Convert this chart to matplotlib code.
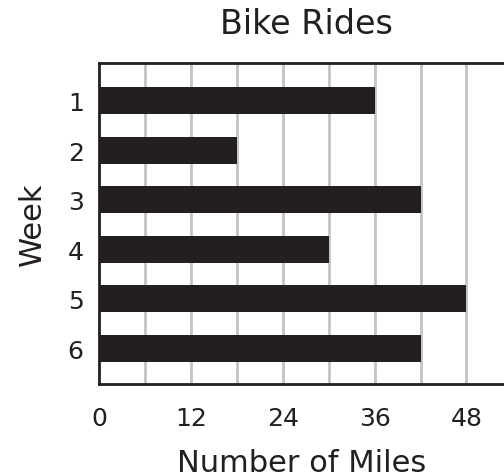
import matplotlib.pyplot as plt

WEEKS = [1, 2, 3, 4, 5, 6]
MILES = [36, 18, 42, 30, 48, 42]
GRID_STEPS = [6, 12, 18, 24, 30, 36, 42, 48]
TICKS = [0, 12, 24, 36, 48]

BAR_COLOR = "#231f20"
GRID_COLOR = "#c4c4c6"


def main():
    fig = plt.figure(figsize=(5.04, 4.77), dpi=100)
    ax = fig.add_axes([99 / 504, 92 / 477, 1 - 99 / 504, 321 / 477])

    for g in GRID_STEPS:
        ax.axvline(g, color=GRID_COLOR, linewidth=2, zorder=1)

    ax.barh(WEEKS, MILES, height=0.545, color=BAR_COLOR, zorder=2)

    ax.set_xlim(0, 52.9)
    ax.set_ylim(6.727, 0.242)

    ax.set_xticks(TICKS)
    ax.set_yticks(WEEKS)
    ax.tick_params(axis="both", length=0, labelsize=18, colors="#231f20")
    ax.tick_params(axis="x", pad=16)
    ax.tick_params(axis="y", pad=11)

    for side in ["left", "bottom", "top"]:
        ax.spines[side].set_linewidth(2)
        ax.spines[side].set_color("#231f20")
    ax.spines["right"].set_visible(False)

    ax.set_xlabel("Number of Miles", fontsize=22, color="#231f20", labelpad=13)
    ax.set_ylabel("Week", fontsize=22, color="#231f20", labelpad=15)
    fig.text(306 / 504, 1 - 24 / 477, "Bike Rides", fontsize=24,
             color="#231f20", ha="center", va="center")

    fig.savefig("out.png", dpi=100)
    plt.close(fig)


if __name__ == "__main__":
    main()
